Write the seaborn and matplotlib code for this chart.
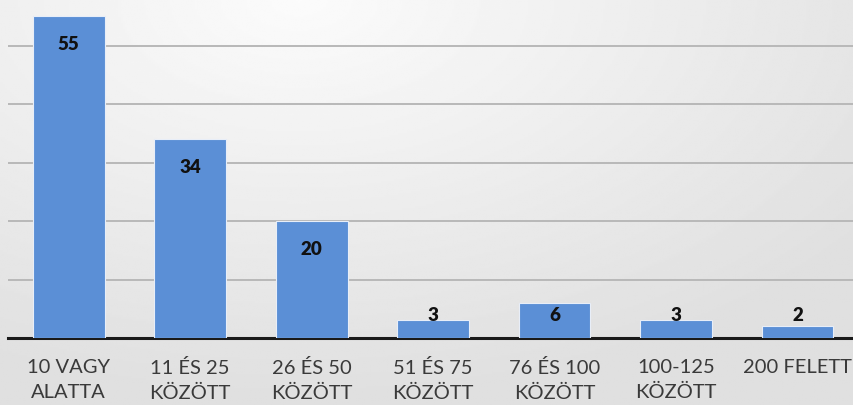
import numpy as np
import pandas as pd
import matplotlib
matplotlib.use("Agg")
import matplotlib.pyplot as plt
import seaborn as sns

# data
categories = ["10 VAGY\nALATTA", "11 ÉS 25\nKÖZÖTT", "26 ÉS 50\nKÖZÖTT", "51 ÉS 75\nKÖZÖTT",
              "76 ÉS 100\nKÖZÖTT", "100-125\nKÖZÖTT", "200 FELETT"]
counts = [55, 34, 20, 3, 6, 3, 2]

df = pd.DataFrame({"cat": categories, "n": counts})

sns.set_theme(style="white")
plt.rcParams['font.family'] = ['Lato', 'DejaVu Sans']

fig = plt.figure(figsize=(8.54, 4.05), dpi=100)

# soft gray background like the photographed slide
bg = fig.add_axes([0, 0, 1, 1], zorder=-10)
yy, xx = np.mgrid[0:1:200j, 0:1:400j]
shade = 0.985 - 0.11 * np.clip(np.sqrt(((xx - 0.35) * 1.2) ** 2 + (yy * 1.0) ** 2), 0, 1)
bg.imshow(shade, cmap="gray", vmin=0, vmax=1, aspect="auto", extent=[0, 1, 1, 0])
bg.axis("off")

ax = fig.add_axes([8 / 854, 67 / 405, 1 - 8 / 854 + 0.005, 338 / 405])
ax.patch.set_alpha(0)
sns.barplot(data=df, x="cat", y="n", color="#5b8fd6", saturation=1, width=0.59,
            edgecolor="#e8eef8", linewidth=0.8, ax=ax, zorder=3)

ax.set_xlim(-0.5, 6.5)
ax.set_ylim(0, 57.8)
ax.set_yticks([10, 20, 30, 40, 50])
ax.yaxis.grid(True, color="#b8b8b8", linewidth=1.4, zorder=0)
ax.set_axisbelow(True)
ax.set_yticklabels([])
ax.tick_params(axis="y", length=0)
ax.tick_params(axis="x", length=0, pad=15)
for lab in ax.get_xticklabels():
    lab.set_fontsize(14.5)
    lab.set_color("#3a3a3a")
    lab.set_linespacing(1.6)
    lab.set_verticalalignment("top")

for s in ["top", "right", "left"]:
    ax.spines[s].set_visible(False)
ax.spines["bottom"].set_color("#1a1a1a")
ax.spines["bottom"].set_linewidth(2.2)

ax.set_xlabel("")
ax.set_ylabel("")

for i, v in enumerate(counts):
    ax.text(i, max(v - 4.8, 3.8), str(v), ha="center", va="center",
            fontsize=13.5, fontweight="heavy", color="#111111", zorder=5)

fig.savefig("out.png", dpi=100)
